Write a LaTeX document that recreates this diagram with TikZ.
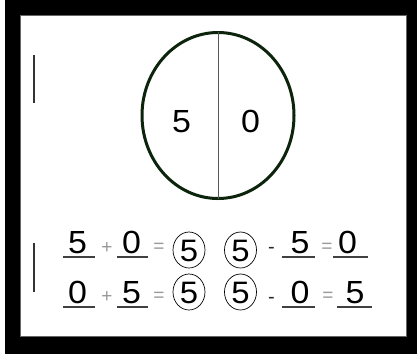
\documentclass[tikz,border=0pt]{standalone}
\usepackage{fontspec}
\setmainfont{Liberation Sans}
\begin{document}
\begin{tikzpicture}[x=1pt,y=-1pt,
  big/.style={font=\fontsize{32}{32}\selectfont, inner sep=0, anchor=base, xscale=1.06},
  dig/.style={font=\fontsize{32}{32}\selectfont, inner sep=0, anchor=base, xscale=1.06},
  cdig/.style={font=\fontsize{31}{31}\selectfont, inner sep=0, anchor=center, xscale=1.06},
  op/.style={font=\fontsize{19}{19}\selectfont, inner sep=0, text=black!40, anchor=center},
  minus/.style={font=\fontsize{20}{20}\selectfont, inner sep=0, text=black!85, anchor=base},
  uline/.style={draw=black!75, line width=1.2pt},
  ring/.style={draw=black, line width=0.7pt},
  cursor/.style={draw=black!80, line width=1.6pt}
]
\useasboundingbox (0,0) rectangle (417,354);
\fill[white] (0,0) rectangle (417,354);
\fill[black] (5,0) rectangle (417,354);
\filldraw[fill=white, draw=black!60, line width=0.6pt] (20.5,15.5) rectangle (406.5,336.5);

% circle diagram
\coordinate (ctr) at (218,115.5);
\draw[draw={rgb,255:red,12;green,36;blue,12}, line width=3pt] (ctr) ellipse [x radius=76, y radius=83];
\coordinate (ltop) at (218,32);
\coordinate (lbot) at (218,199);
\draw[black!65, line width=0.9pt] (ltop) -- (lbot);
\node[big] (a) at (181.5,132) {5};
\node[big] (b) at (250.5,132) {0};

% cursor marks
\coordinate (c1t) at (34,55); \coordinate (c1b) at (34,103);
\coordinate (c2t) at (34,243); \coordinate (c2b) at (34,292);
\draw[cursor] (c1t) -- (c1b);
\draw[cursor] (c2t) -- (c2b);

% row 1
\node[dig] (r1a) at (77.5,253) {5};
\node[op] (r1p) at (107,248) {+};
\node[dig] (r1b) at (131.5,253) {0};
\node[op] (r1e) at (159,248) {=};
\draw[ring] (189,250) ellipse [x radius=16, y radius=18];
\node[cdig] (r1c) at (189,250.5) {5};
\draw[ring] (240.5,250) ellipse [x radius=16, y radius=18];
\node[cdig] (r1d) at (240.5,250.5) {5};
\node[minus] (r1m) at (271.5,253) {-};
\node[dig] (r1f) at (300,253) {5};
\node[op] (r1q) at (327,248) {=};
\node[dig] (r1g) at (347.5,253) {0};
\draw[uline] (63,257) -- (95,257);
\draw[uline] (117,257) -- (148,257);
\draw[uline] (282,257) -- (315,257);
\draw[uline] (333,257) -- (368,257);

% row 2
\node[dig] (r2a) at (77.5,303) {0};
\node[op] (r2p) at (107,297) {+};
\node[dig] (r2b) at (131.5,303) {5};
\node[op] (r2e) at (159,297) {=};
\draw[ring] (189,292) ellipse [x radius=16, y radius=18];
\node[cdig] (r2c) at (189,292.5) {5};
\draw[ring] (240.5,292) ellipse [x radius=16, y radius=18];
\node[cdig] (r2d) at (240.5,292.5) {5};
\node[minus] (r2m) at (271.5,303) {-};
\node[dig] (r2f) at (300,303) {0};
\node[op] (r2q) at (328,297) {=};
\node[dig] (r2g) at (355,303) {5};
\draw[uline] (63,307) -- (95,307);
\draw[uline] (117,307) -- (148,307);
\draw[uline] (282,307) -- (315,307);
\draw[uline] (337,307) -- (372,307);
\end{tikzpicture}
\end{document}
